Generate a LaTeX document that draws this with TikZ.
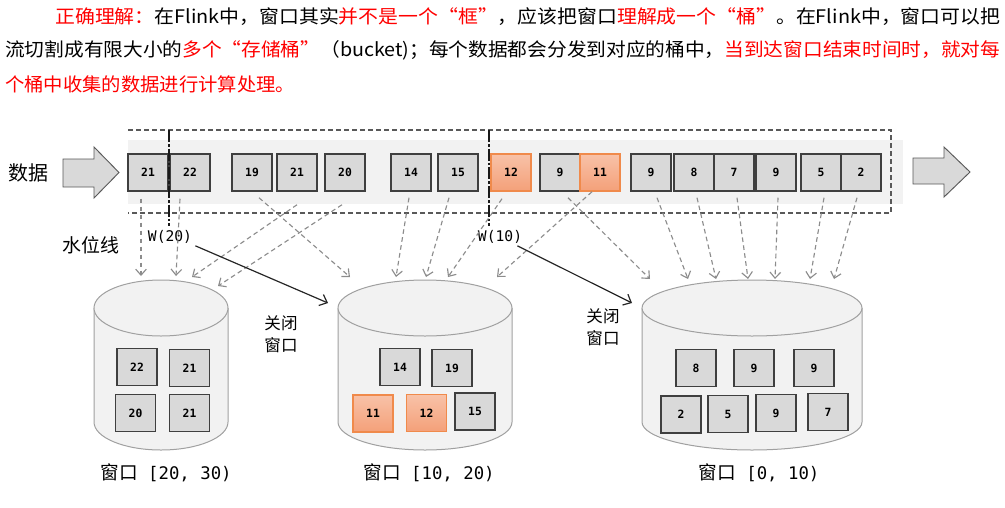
\documentclass[tikz,border=0pt]{standalone}
\usepackage{fontspec}
\usepackage{graphicx}
\setmainfont{Noto Sans CJK SC}
\newfontfamily\monof{DejaVu Sans Mono}
\usetikzlibrary{arrows.meta}
\definecolor{boxfill}{HTML}{D9D9D9}
\definecolor{boxline}{HTML}{3F3F3F}
\definecolor{bandfill}{HTML}{F2F2F2}
\definecolor{cylfill}{HTML}{F2F2F2}
\definecolor{cylline}{HTML}{A0A0A0}
\definecolor{darrc}{HTML}{8C8C8C}
\definecolor{rectc}{HTML}{595959}
\definecolor{otop}{HTML}{F8C2A8}
\definecolor{obot}{HTML}{F4A079}
\definecolor{oline}{HTML}{F08A4B}
\definecolor{bigfill}{HTML}{D9D9D9}
\definecolor{bigline}{HTML}{595959}
\tikzset{
  dbox/.style={draw=boxline, fill=boxfill, line width=1.1pt, minimum width=30pt, minimum height=27.75pt, inner sep=0pt, font=\monof\bfseries\fontsize{8.5pt}{10pt}\selectfont},
  obox/.style={dbox, draw=oline, top color=otop, bottom color=obot},
  darr/.style={draw=darrc, line width=0.85pt, dash pattern=on 3.5pt off 2.5pt, -{Straight Barb[length=4.5pt,width=8pt,line width=0.85pt]}},
  barr/.style={draw=black!85, line width=0.9pt, -{Straight Barb[length=5pt,width=9pt,line width=0.9pt]}},
  wline/.style={draw=black!90, line width=2.2pt, dash pattern=on 9pt off 1.5pt on 2pt off 1.5pt},
  drect/.style={draw=rectc, line width=1.1pt, dash pattern=on 3.5pt off 2.5pt},
  bigarr/.style={draw=bigline, fill=bigfill, line width=0.7pt},
  cyl/.style={draw=cylline, fill=cylfill, line width=0.75pt},
  wlab/.style={inner sep=0pt, font=\monof\fontsize{11pt}{13pt}\selectfont},
  winlab/.style={inner sep=0pt, font=\fontsize{14pt}{16pt}\selectfont},
  small/.style={inner sep=0pt, align=left, font=\fontsize{12.4pt}{16.5pt}\selectfont},
  topline/.style={inner sep=0pt, anchor=west, font=\fontsize{14pt}{16pt}\selectfont},
}
\begin{document}
\begin{tikzpicture}[x=0.75pt,y=-0.75pt]
\useasboundingbox (0,0) rectangle (1005,507);
% top text
\node[topline] (t1) at (55,17) {\resizebox{708.75pt}{\height}{{\color{red}正确理解：}在Flink中，窗口其实{\color{red}并不是一个“框”}，应该把窗口{\color{red}理解成一个“桶”}。在Flink中，窗口可以把}};
\node[topline] (t2) at (5,50) {\resizebox{746.25pt}{\height}{流切割成有限大小的{\color{red}多个“存储桶”}（bucket)；每个数据都会分发到对应的桶中，{\color{red}当到达窗口结束时间时，就对每}}};
\node[topline] (t3) at (5,84) {\resizebox{217.5pt}{\height}{\color{red}个桶中收集的数据进行计算处理。}};
% band and dashed rectangle
\fill[bandfill] (128,140) rectangle (903,204);
\draw[drect] (128,130) -- (891,130) -- (891,213) -- (128,213);
% big arrows
\draw[bigarr] (63,159) -- (94,159) -- (94,147) -- (119,172.5) -- (94,198) -- (94,187) -- (63,187) -- cycle;
\draw[bigarr] (913,158) -- (944,158) -- (944,147) -- (970,172) -- (944,197) -- (944,184) -- (913,184) -- cycle;
\node[inner sep=0pt, font=\fontsize{15pt}{17pt}\selectfont] (lab1) at (28,173) {数据};
\node[inner sep=0pt, font=\fontsize{14.2pt}{17pt}\selectfont] (lab2) at (91,245) {水位线};
% data boxes
\node[dbox] (d1) at (148,172.5) {21};
\node[dbox] (d2) at (190,172.5) {22};
\node[dbox] (d3) at (252,172.5) {19};
\node[dbox] (d4) at (297,172.5) {21};
\node[dbox] (d5) at (345,172.5) {20};
\node[dbox] (d6) at (411,172.5) {14};
\node[dbox] (d7) at (458,172.5) {15};
\node[obox] (d8) at (511,172.5) {12};
\node[dbox] (d9) at (560,172.5) {9};
\node[obox] (d10) at (600,172.5) {11};
\node[dbox] (d11) at (651,172.5) {9};
\node[dbox] (d12) at (694,172.5) {8};
\node[dbox] (d13) at (734,172.5) {7};
\node[dbox] (d14) at (776,172.5) {9};
\node[dbox] (d15) at (821,172.5) {5};
\node[dbox] (d16) at (861,172.5) {2};
% watermarks
\coordinate (w1t) at (169,130);
\coordinate (w1b) at (169,226);
\coordinate (w2t) at (489,130);
\coordinate (w2b) at (489,226);
\draw[wline] (w1t) -- (w1b);
\draw[wline] (w2t) -- (w2b);
\node[wlab] (w20) at (170,237) {W(20)};
\node[wlab] (w10) at (500,237) {W(10)};
% cylinders
\draw[cyl] (94,308) -- (94,422) arc[start angle=180,end angle=0,x radius=67,y radius=28] -- (228,308);
\draw[cyl] (161,308) ellipse[x radius=67, y radius=28];
\draw[cyl] (338,308) -- (338,422) arc[start angle=180,end angle=0,x radius=87,y radius=28] -- (512,308);
\draw[cyl] (425,308) ellipse[x radius=87, y radius=28];
\draw[cyl] (642,308) -- (642,422) arc[start angle=180,end angle=0,x radius=110,y radius=28] -- (862,308);
\draw[cyl] (752,308) ellipse[x radius=110, y radius=28];
% boxes in cylinders
\node[dbox] (a1) at (137,367) {22};
\node[dbox] (a2) at (189.5,368) {21};
\node[dbox] (a3) at (135.5,413) {20};
\node[dbox] (a4) at (189.5,413) {21};
\node[dbox] (b1) at (400,367) {14};
\node[dbox] (b2) at (452,368) {19};
\node[obox] (b3) at (373,413.5) {11};
\node[obox] (b4) at (426.5,413) {12};
\node[dbox] (b5) at (475,411.5) {15};
\node[dbox] (c1) at (696,368) {8};
\node[dbox] (c2) at (754,368) {9};
\node[dbox] (c3) at (814,368) {9};
\node[dbox] (c4) at (681,414.5) {2};
\node[dbox] (c5) at (728,414) {5};
\node[dbox] (c6) at (776,413) {9};
\node[dbox] (c7) at (828,412) {7};
% window labels
\node[winlab] (l1) at (166,473) {窗口{\monof\fontsize{13pt}{15pt}\selectfont{} [20, 30)}};
\node[winlab] (l2) at (429,473) {窗口{\monof\fontsize{13pt}{15pt}\selectfont{} [10, 20)}};
\node[winlab] (l3) at (759,473) {窗口{\monof\fontsize{13pt}{15pt}\selectfont{} [0, 10)}};
\node[small] (g1) at (281,334) {关闭\\窗口};
\node[small] (g2) at (603,327) {关闭\\窗口};
% arrow end coordinates
\coordinate (e1) at (141,276);
\coordinate (e2) at (176,276);
\coordinate (e3) at (192,277);
\coordinate (e4) at (218,286);
\coordinate (e5) at (350,277);
\coordinate (e6) at (396,277);
\coordinate (e7) at (426,277);
\coordinate (e8) at (448,277);
\coordinate (e9) at (497,277);
\coordinate (e10) at (650,279);
\coordinate (e11) at (688,279);
\coordinate (e12) at (716,279);
\coordinate (e13) at (748,279);
\coordinate (e14) at (775,279);
\coordinate (e15) at (810,279);
\coordinate (e16) at (834,279);
\coordinate (k1) at (328,303);
\coordinate (k2) at (632,303);
% dashed arrows
\draw[darr] ([shift={(-7,7)}]d1.south) -- (e1);
\draw[darr] ([shift={(-10,7)}]d2.south) -- (e2);
\draw[darr] ([shift={(0,13)}]d4.south) -- (e3);
\draw[darr] ([shift={(-3,13)}]d5.south) -- (e4);
\draw[darr] ([shift={(7,6)}]d3.south) -- (e5);
\draw[darr] ([shift={(-2,6)}]d6.south) -- (e6);
\draw[darr] ([shift={(-9,6)}]d7.south) -- (e7);
\draw[darr] ([shift={(-9,7)}]d8.south) -- (e8);
\draw[darr] ([shift={(-8,0)}]d10.south) -- (e9);
\draw[darr] ([shift={(8,6)}]d9.south) -- (e10);
\draw[darr] ([shift={(6,6)}]d11.south) -- (e11);
\draw[darr] ([shift={(3,6)}]d12.south) -- (e12);
\draw[darr] ([shift={(3,6)}]d13.south) -- (e13);
\draw[darr] ([shift={(2,6)}]d14.south) -- (e14);
\draw[darr] ([shift={(3,6)}]d15.south) -- (e15);
\draw[darr] ([shift={(-4,6)}]d16.south) -- (e16);
% close-window arrows
\draw[barr] ([shift={(3,2)}]w20.south east) -- (k1);
\draw[barr] ([shift={(-5,2)}]w10.south east) -- (k2);
\end{tikzpicture}
\end{document}
